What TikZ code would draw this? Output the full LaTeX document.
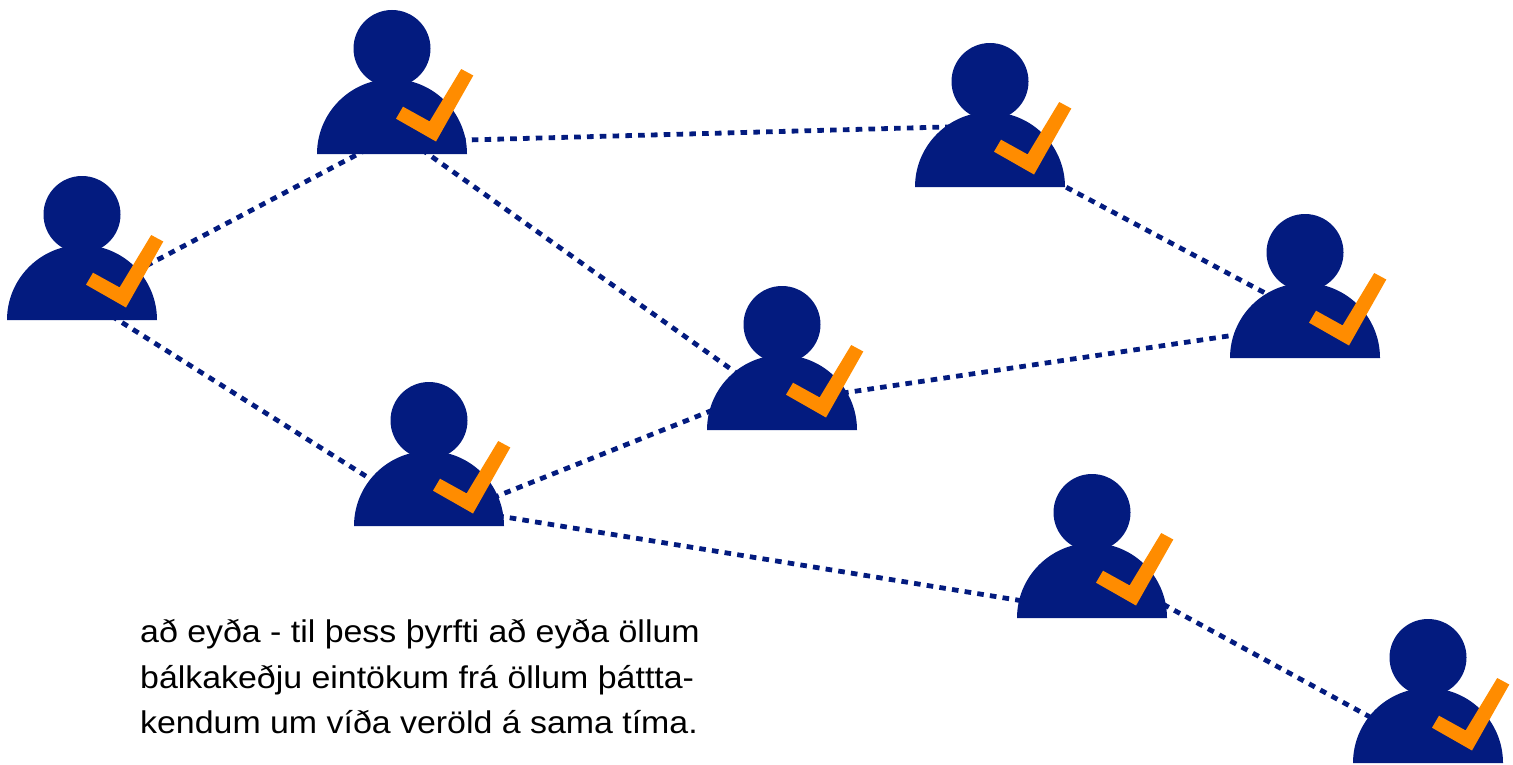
\documentclass[tikz,border=0pt]{standalone}
\usepackage{fontspec}
\setmainfont[FakeStretch=1.08]{Liberation Sans}
\usetikzlibrary{calc}
\definecolor{navy}{HTML}{031B7F}
\definecolor{tick}{HTML}{FF8C00}
\tikzset{
  x=1bp,y=-1bp,
  link/.style={draw=navy,line width=4.8bp,dash pattern=on 6.6bp off 6.2bp,shorten <=-8bp,shorten >=-8bp},
  caption/.style={anchor=north west,inner sep=0pt,align=left,text=black,font=\fontsize{31.5}{45.5}\selectfont},
  person/.pic={
    \fill[navy] (0,-105.5) circle[radius=38.5];
    \fill[navy] (-75,0) arc[start angle=180,end angle=0,x radius=75,y radius=-75] -- cycle;
    \fill[tick] (69.2,-85) -- (81.3,-78.5) -- (44,-12.5) -- (4,-35.3) -- (11,-47.3) -- (37.6,-32.6) -- cycle;
  }
}
\begin{document}
\begin{tikzpicture}
\useasboundingbox (0,0) rectangle (1513,764);
\coordinate (p1) at (82,320);
\coordinate (p2) at (392,154);
\coordinate (p3) at (990,187);
\coordinate (p4) at (1305,358);
\coordinate (p5) at (782,430);
\coordinate (p6) at (429,526);
\coordinate (p7) at (1092,618);
\coordinate (p8) at (1428,763);
\draw[link] ($(p1)+(60,-52)$) -- ($(p2)+(-32,-1)$);
\draw[link] ($(p1)+(36,0)$) -- ($(p6)+(-57,-46)$);
\draw[link] ($(p2)+(75,-14)$) -- ($(p3)+(-45,-60)$);
\draw[link] ($(p2)+(36,0)$) -- ($(p5)+(-47,-58)$);
\draw[link] ($(p3)+(72,-2)$) -- ($(p4)+(-40,-65)$);
\draw[link] ($(p5)+(68,-38)$) -- ($(p4)+(-70,-23)$);
\draw[link] ($(p6)+(71,-31)$) -- ($(p5)+(-74,-18)$);
\draw[link] ($(p6)+(76,-9)$) -- ($(p7)+(-75,-18)$);
\draw[link] ($(p7)+(78,-10)$) -- ($(p8)+(-58,-46)$);
\foreach \p in {p1,p2,p3,p4,p5,p6,p7,p8} \pic at (\p) {person};
\node[caption] (note) at (140,619.5) {að eyða - til þess þyrfti að eyða öllum\\bálkakeðju eintökum frá öllum þáttta-\\kendum um víða veröld á sama tíma.};
\end{tikzpicture}
\end{document}
